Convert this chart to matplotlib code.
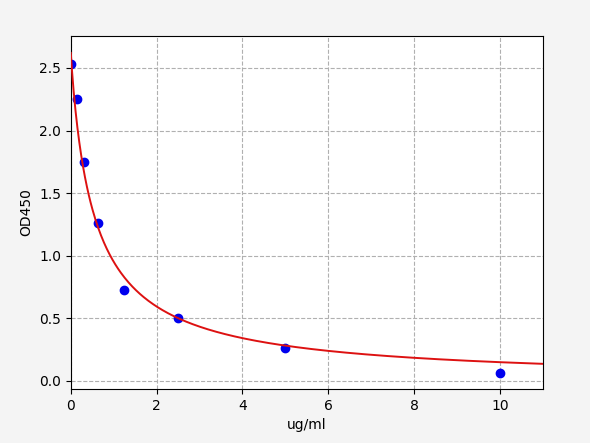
import numpy as np
import matplotlib
matplotlib.use("Agg")
import matplotlib.pyplot as plt

# standard points
conc = [0, 0.156, 0.3125, 0.625, 1.25, 2.5, 5, 10]
od450 = [2.53, 2.25, 1.75, 1.26, 0.73, 0.50, 0.265, 0.06]

# 4PL fit parameters (top, bottom, ec50, slope) estimated from the red curve
fit_top = 2.62
fit_bottom = -0.01
fit_c = 0.56
fit_b = 0.95

xs = np.linspace(0, 11, 500)
ys = fit_bottom + (fit_top - fit_bottom) / (1 + (xs / fit_c) ** fit_b)

fig = plt.figure(figsize=(5.9, 4.43), dpi=100, facecolor="#f4f4f4")
ax = fig.add_axes([0.120, 0.122, 0.800, 0.797])

ax.plot(conc, od450, "o", color="#0000ee", markersize=6, zorder=2)
ax.plot(xs, ys, color="#dd1111", linewidth=1.4, zorder=3)

ax.set_xlim(0, 11)
ax.set_ylim(-0.064, 2.756)
ax.set_xticks([0, 2, 4, 6, 8, 10])
ax.set_yticks([0.0, 0.5, 1.0, 1.5, 2.0, 2.5])
ax.grid(True, linestyle="--", color="#b0b0b0", linewidth=0.8)
ax.set_axisbelow(True)
ax.set_xlabel("ug/ml")
ax.set_ylabel("OD450")

fig.savefig("out.png", dpi=100, facecolor=fig.get_facecolor())
